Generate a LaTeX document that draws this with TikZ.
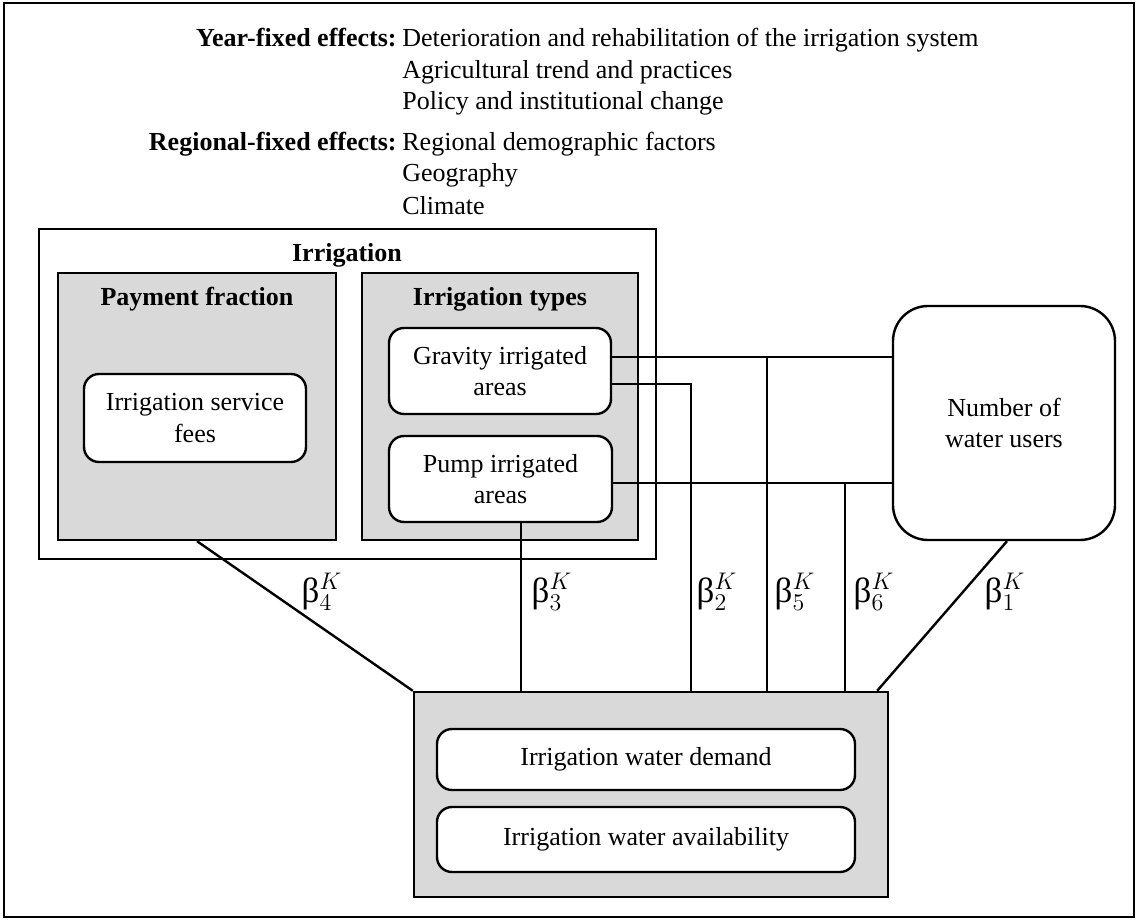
\documentclass[tikz,border=0pt]{standalone}
\usepackage{fontspec}
\setmainfont{Liberation Serif}
\begin{document}
\begin{tikzpicture}[x=0.5pt,y=-0.5pt,
  every node/.style={font=\fontsize{13}{15.75}\selectfont},
  toptext/.style={inner sep=0pt},
  graybox/.style={draw,line width=1.2pt,fill=black!15,inner sep=0pt},
  whitebox/.style={draw,line width=1.2pt,fill=white,inner sep=0pt},
  roundbox/.style={draw,line width=1.2pt,fill=white,rounded corners=7.5pt,inner sep=0pt,align=center},
  title/.style={font=\fontsize{13}{15.75}\selectfont\bfseries},
  conn/.style={line width=1.2pt},
  betalab/.style={font=\fontsize{17.5}{20}\selectfont,inner sep=0pt}]
\useasboundingbox (0,0) rectangle (1137,920);
\node[draw,line width=1.4pt,minimum width=565pt,minimum height=457pt,inner sep=0pt] (frame) at (569,460) {};
% top texts
\node[title,toptext,anchor=base east] (yfe) at (397,47) {Year-fixed effects:};
\node[toptext,anchor=base west] (yfe1) at (402,47) {Deterioration and rehabilitation of the irrigation system};
\node[toptext,anchor=base west] (yfe2) at (402,79) {Agricultural trend and practices};
\node[toptext,anchor=base west] (yfe3) at (402,110) {Policy and institutional change};
\node[title,toptext,anchor=base east] (rfe) at (397,151) {Regional-fixed effects:};
\node[toptext,anchor=base west] (rfe1) at (402,151) {Regional demographic factors};
\node[toptext,anchor=base west] (rfe2) at (402,182) {Geography};
\node[toptext,anchor=base west] (rfe3) at (402,214) {Climate};
% irrigation
\node[whitebox,minimum width=308.5pt,minimum height=165pt] (irr) at (347.5,394) {};
\node[title] (irrt) at (347,255) {Irrigation};
\node[graybox,minimum width=139pt,minimum height=133.5pt] (pay) at (197,406.5) {};
\node[title] (payt) at (197,299) {Payment fraction};
\node[roundbox,minimum width=111pt,minimum height=44pt] (fees) at (195,418) {Irrigation service\\fees};
\node[graybox,minimum width=138pt,minimum height=133.5pt] (types) at (500,406.5) {};
\node[title] (typest) at (500,299) {Irrigation types};
\node[roundbox,minimum width=111pt,minimum height=43pt] (grav) at (500,371) {Gravity irrigated\\areas};
\node[roundbox,minimum width=111.5pt,minimum height=43pt] (pump) at (500.5,479) {Pump irrigated\\areas};
% number of water users
\node[roundbox,rounded corners=17.5pt,minimum width=111pt,minimum height=117pt] (nwu) at (1004,423) {Number of\\water users};
% bottom
\node[graybox,minimum width=237pt,minimum height=102.5pt] (bot) at (651,794.5) {};
\node[roundbox,minimum width=209pt,minimum height=30.5pt] (dem) at (646,759.5) {Irrigation water demand};
\node[roundbox,minimum width=209pt,minimum height=32.5pt] (avail) at (646,839.5) {Irrigation water availability};
% x positions of vertical connectors
\coordinate (x2) at (691,0);
\coordinate (x5) at (767,0);
\coordinate (x6) at (845,0);
% connectors
\draw[conn] ([yshift=7pt]grav.east) coordinate (g1) -- (g1 -| nwu.west);
\draw[conn] (g1 -| x5) -- (x5 |- bot.north);
\draw[conn] ([yshift=-6.5pt]grav.east) -| (x2 |- bot.north);
\draw[conn] ([yshift=-2pt]pump.east) coordinate (p1) -- (p1 -| nwu.west);
\draw[conn] (p1 -| x6) -- (x6 |- bot.north);
\draw[conn] ([xshift=10.25pt]pump.south) coordinate (p2) -- (p2 |- bot.north);
\draw[conn] (pay.south) -- (bot.north west);
\draw[conn] ([xshift=1.5pt]nwu.south) -- ([xshift=-6pt]bot.north east);
% beta labels
\node[betalab] (b4) at (322,592) {β$^{K}_{4}$};
\node[betalab] (b3) at (552,592) {β$^{K}_{3}$};
\node[betalab] (b2) at (717,592) {β$^{K}_{2}$};
\node[betalab] (b5) at (795,592) {β$^{K}_{5}$};
\node[betalab] (b6) at (874,592) {β$^{K}_{6}$};
\node[betalab] (b1) at (1005,592) {β$^{K}_{1}$};
\end{tikzpicture}
\end{document}
